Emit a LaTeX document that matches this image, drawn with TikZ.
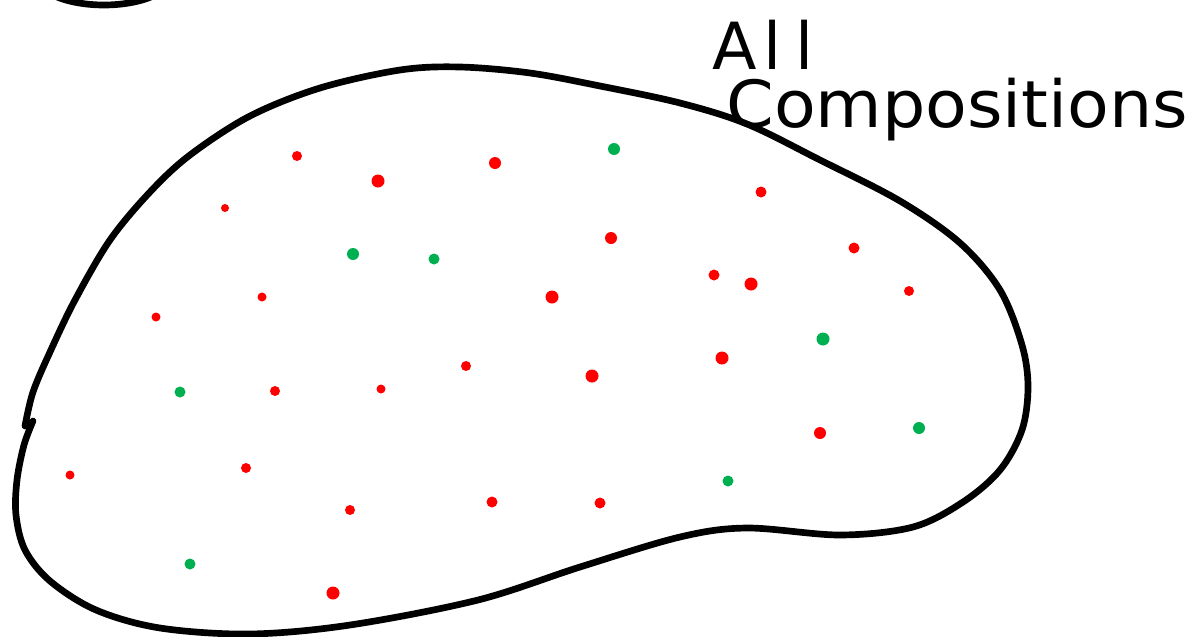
\documentclass[tikz,border=0pt]{standalone}
\usepackage{fontspec}
\setmainfont{DejaVu Sans}
\usepackage{xcolor}
\usepackage{graphicx}
\definecolor{dotred}{HTML}{FF0000}
\definecolor{dotgreen}{HTML}{00B050}
\tikzset{
  outline/.style={line width=3.8pt,line cap=round,line join=round},
  handlbl/.style={inner sep=0pt,anchor=base west,align=left,font=\fontsize{37}{33}\selectfont},
}

\begin{document}
\begin{tikzpicture}[x=0.02cm,y=-0.02cm]
\useasboundingbox (0,0) rectangle (1203,636);
% cut-off circle, top left
\begin{scope}
\clip (0,0) rectangle (1203,636);
\draw[outline] (104,-26) ellipse[x radius=70,y radius=31];
\end{scope}
% the blob (open at the left)
\draw[outline] plot[smooth,tension=0.55] coordinates {(33,421) (24,445) (17,480) (16,515) (25,550) (50,581) (96,610) (160,628) (250,634) (350,625) (478,600) (580,567) (680,537) (747,528) (840,535) (913,527) (963,502) (1000,470) (1022,430) (1028,387) (1022,345) (1000,290) (960,243) (900,201) (820,160) (747,124) (680,103) (600,86) (530,73) (460,67) (400,70) (320,88) (250,116) (190,155) (150,192) (110,240) (75,300) (50,352) (33,392) (25,426)};
% red dots
\foreach \x/\y/\r in {297/156/5, 378/181/6.5, 495/163/6, 225/208/4, 761/192/5.5, 611/238/6,
  854/248/5.5, 262/297/4.5, 552/297/6.5, 714/275/5.5, 751/284/6.5, 909/291/5, 156/317/4.5,
  466/366/5, 592/376/6.5, 722/358/6.5, 275/391/5, 381/389/4.5, 820/433/6, 70/475/4.5,
  246/468/5, 350/510/5, 492/502/5.5, 600/503/5.5, 333/593/6.5}
  \fill[dotred] (\x,\y) circle[radius=\r];
% green dots
\foreach \x/\y/\r in {614/149/6, 353/254/6, 434/259/5.5, 823/339/6.5, 180/392/5.5,
  919/428/6, 728/481/5.5, 190/564/5.5}
  \fill[dotgreen] (\x,\y) circle[radius=\r];
% label
\node[handlbl] (lblcomp) at (712,127) {A\kern4pt l\kern8pt l\\\hspace*{8pt}\scalebox{1.05}[1]{Compositions}};
\end{tikzpicture}
\end{document}
